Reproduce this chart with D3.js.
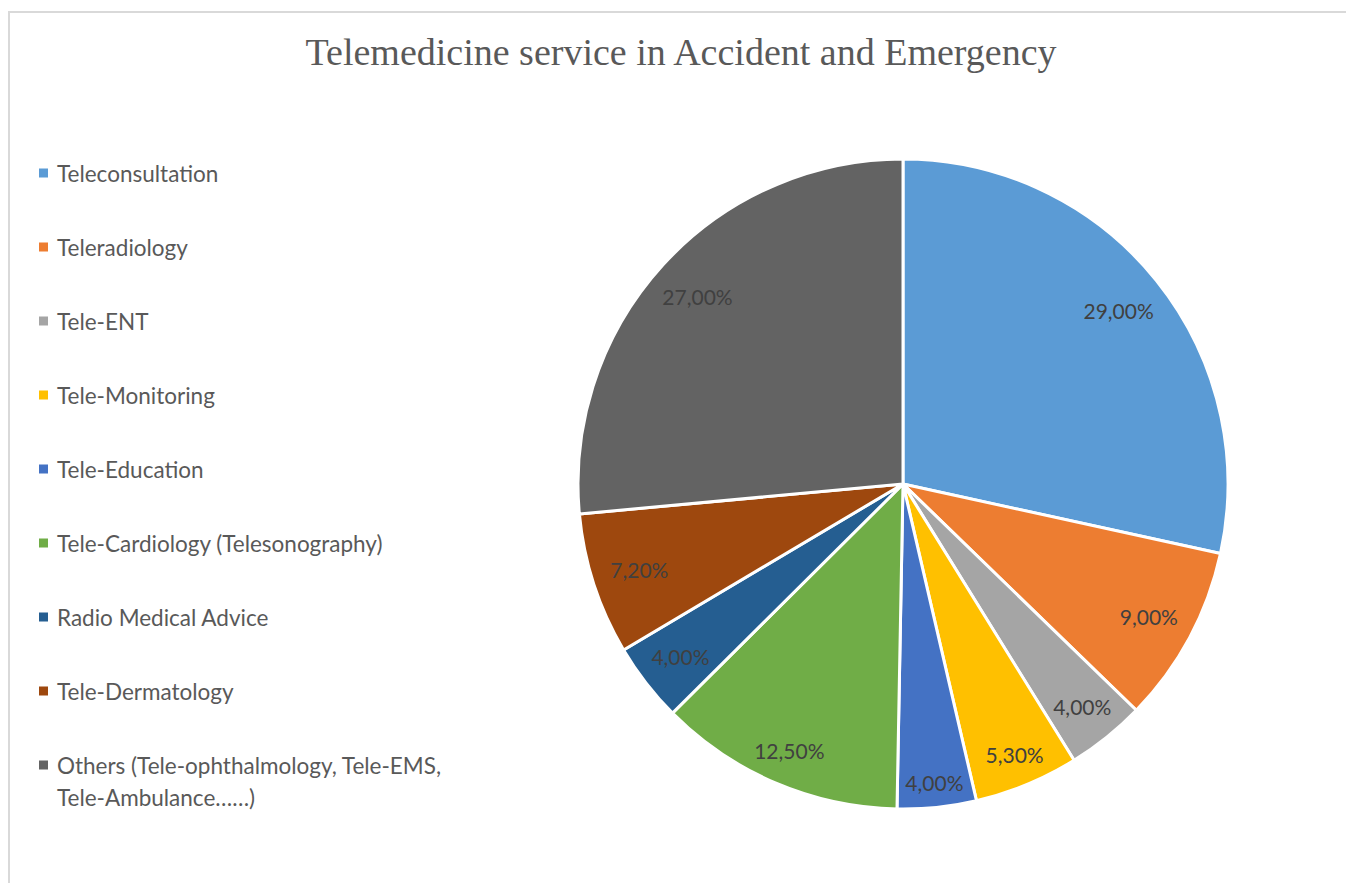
<!DOCTYPE html>
<html>
<head>
<meta charset="utf-8">
<script src="https://cdn.jsdelivr.net/npm/d3@7/dist/d3.min.js"></script>
<style>
  html, body { margin: 0; padding: 0; background: #fff; }
  svg { display: block; }
</style>
</head>
<body>
<svg id="chart" width="1346" height="883"></svg>
<script>
// Services and their share of telemedicine use in A&E
const categories = [
  "Teleconsultation",
  "Teleradiology",
  "Tele-ENT",
  "Tele-Monitoring",
  "Tele-Education",
  "Tele-Cardiology (Telesonography)",
  "Radio Medical Advice",
  "Tele-Dermatology",
  "Others (Tele-ophthalmology, Tele-EMS, Tele-Ambulance……)"
];
const values = [29.0, 9.0, 4.0, 5.3, 4.0, 12.5, 4.0, 7.2, 27.0];
const valueLabels = ["29,00%", "9,00%", "4,00%", "5,30%", "4,00%", "12,50%", "4,00%", "7,20%", "27,00%"];
// Legend text, broken into lines where the entry wraps
const legendLines = [
  ["Teleconsultation"],
  ["Teleradiology"],
  ["Tele-ENT"],
  ["Tele-Monitoring"],
  ["Tele-Education"],
  ["Tele-Cardiology (Telesonography)"],
  ["Radio Medical Advice"],
  ["Tele-Dermatology"],
  ["Others (Tele-ophthalmology, Tele-EMS,", "Tele-Ambulance……)"]
];
const palette = ["#5B9BD5", "#ED7D31", "#A5A5A5", "#FFC000", "#4472C4",
                 "#70AD47", "#255E91", "#9E480E", "#636363"];
const titleText = "Telemedicine service in Accident and Emergency";

const svg = d3.select("#chart");
const color = d3.scaleOrdinal().domain(categories).range(palette);

// chart area frame
svg.append("rect")
  .attr("x", 9).attr("y", 12)
  .attr("width", 1400).attr("height", 900)
  .attr("fill", "#fff")
  .attr("stroke", "#d9d9d9").attr("stroke-width", 2);

// title
svg.append("text")
  .attr("x", 681).attr("y", 65)
  .attr("text-anchor", "middle")
  .attr("font-family", "'Liberation Serif', 'DejaVu Serif', serif")
  .attr("font-size", 38)
  .attr("fill", "#595959")
  .text(titleText);

// pie
const cx = 903, cy = 484, radius = 325;
const pie = d3.pie().sort(null).value(d => d.value).startAngle(0).endAngle(2 * Math.PI);
const arc = d3.arc().innerRadius(0).outerRadius(radius);
const data = categories.map((c, i) => ({ name: c, value: values[i], label: valueLabels[i] }));
const arcs = pie(data);

const g = svg.append("g").attr("transform", `translate(${cx},${cy})`);
g.selectAll("path.slice")
  .data(arcs)
  .join("path")
  .attr("class", "slice")
  .attr("d", arc)
  .attr("fill", d => color(d.data.name))
  .attr("stroke", "#fff")
  .attr("stroke-width", 3)
  .attr("stroke-linejoin", "round");

// value labels, pushed out along each slice's mid-angle until the
// label's outer side edge reaches the fit radius
const labelFont = 21;
const fitRadius = radius - 20;
const labels = g.selectAll("text.val")
  .data(arcs)
  .join("text")
  .attr("class", "val")
  .attr("font-family", "Lato, 'Open Sans', sans-serif")
  .attr("font-size", labelFont)
  .attr("fill", "#404040")
  .attr("text-anchor", "middle")
  .attr("dominant-baseline", "central")
  .text(d => d.data.label);

labels.each(function(d) {
  const hw = this.getComputedTextLength() / 2;
  const mid = (d.startAngle + d.endAngle) / 2;
  const s = Math.abs(Math.sin(mid));
  const b = s * hw;
  const dist = -b + Math.sqrt(b * b - (hw * hw - fitRadius * fitRadius));
  d3.select(this)
    .attr("x", dist * Math.sin(mid))
    .attr("y", -dist * Math.cos(mid));
});

// legend
const legendTop = 173, legendStep = 74, lineStep = 32;
const legend = svg.append("g");
const items = legend.selectAll("g.item")
  .data(categories)
  .join("g")
  .attr("class", "item")
  .attr("transform", (d, i) => `translate(39,${legendTop + i * legendStep})`);
items.append("rect")
  .attr("x", 0).attr("y", -4.5)
  .attr("width", 9).attr("height", 9)
  .attr("fill", d => color(d));
items.each(function(d, i) {
  const t = d3.select(this).append("text")
    .attr("font-family", "Lato, 'Open Sans', sans-serif")
    .attr("font-size", 22.5)
    .attr("fill", "#595959");
  legendLines[i].forEach((line, k) => {
    t.append("tspan")
      .attr("x", 18)
      .attr("y", k * lineStep)
      .attr("dominant-baseline", "central")
      .text(line);
  });
});
</script>
</body>
</html>
